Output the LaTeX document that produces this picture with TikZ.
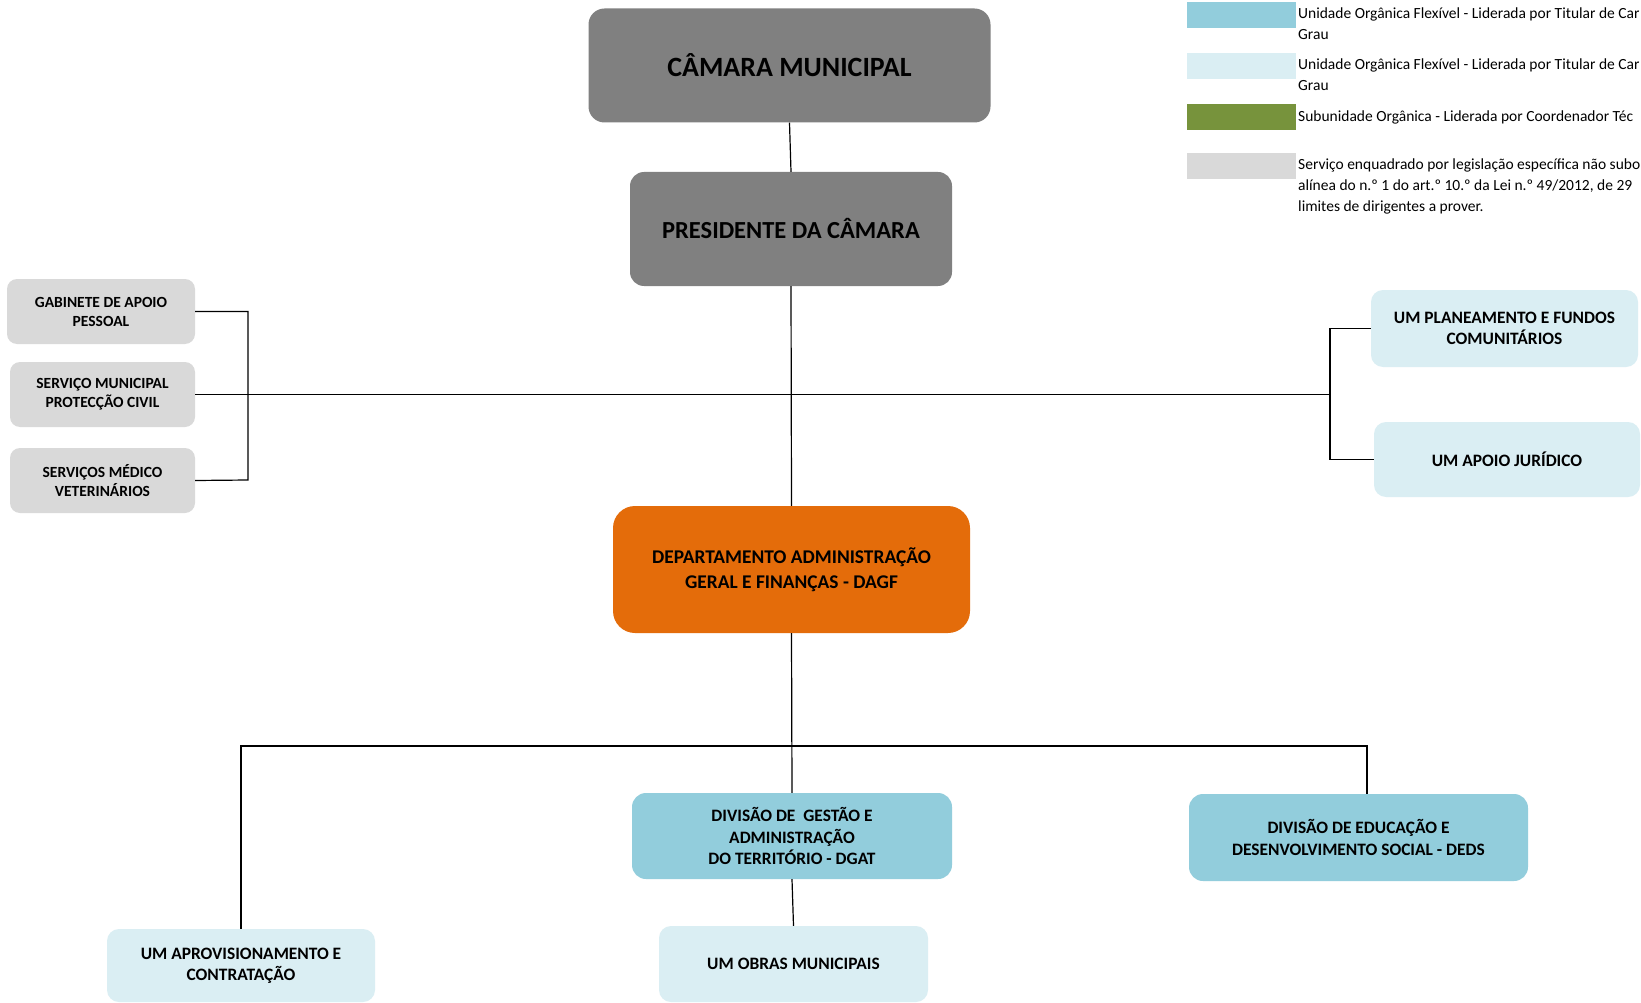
\documentclass[tikz,border=0pt]{standalone}
\usepackage{fontspec}
\setmainfont{Carlito}
\definecolor{dgray}{HTML}{808080}
\definecolor{lgray}{HTML}{D9D9D9}
\definecolor{orng}{HTML}{E46C0A}
\definecolor{mblue}{HTML}{92CDDC}
\definecolor{lblue}{HTML}{DAEEF3}
\definecolor{olive}{HTML}{77933C}
\begin{document}
\begin{tikzpicture}[x=1pt,y=-1pt,
  unit/.style={rectangle, rounded corners=10pt, align=center, inner sep=0pt, text=black},
  conn/.style={draw=black, line width=1.2pt},
  legtext/.style={anchor=base west, inner sep=0pt, text=black, font=\fontsize{15.5}{19}\selectfont},
  swatch/.style={rectangle, inner sep=0pt, minimum width=109pt, minimum height=25.5pt}
]
\useasboundingbox (0,0) rectangle (1641,1003);
\clip (0,0) rectangle (1641,1003);
\fill[white] (0,0) rectangle (1641,1003);

% top
\node[unit, fill=dgray, rounded corners=16pt, minimum width=402pt, minimum height=114pt,
  font=\bfseries\fontsize{27.9}{32}\selectfont] (camara) at (789.5,65.5) {CÂMARA MUNICIPAL};
\node[unit, fill=dgray, rounded corners=14pt, minimum width=322pt, minimum height=114pt,
  font=\bfseries\fontsize{24.5}{28}\selectfont] (pres) at (791,229) {PRESIDENTE DA CÂMARA};

% left services
\node[unit, fill=lgray, minimum width=188pt, minimum height=65pt,
  font=\bfseries\fontsize{15.5}{19}\selectfont] (gab) at (101,311.5) {GABINETE DE APOIO\\PESSOAL};
\node[unit, fill=lgray, minimum width=185pt, minimum height=65pt,
  font=\bfseries\fontsize{15.5}{19}\selectfont] (smpc) at (102.5,394.5) {SERVIÇO MUNICIPAL\\PROTECÇÃO CIVIL};
\node[unit, fill=lgray, minimum width=185pt, minimum height=65pt,
  font=\bfseries\fontsize{15.5}{19}\selectfont] (smv) at (102.5,480.5) {SERVIÇOS MÉDICO\\VETERINÁRIOS};

% right units
\node[unit, fill=lblue, rounded corners=12pt, minimum width=267pt, minimum height=77pt,
  font=\bfseries\fontsize{17.4}{21.5}\selectfont] (plan) at (1504.5,328.5) {UM PLANEAMENTO E FUNDOS\\COMUNITÁRIOS};
\node[unit, fill=lblue, rounded corners=12pt, minimum width=266pt, minimum height=75pt,
  font=\bfseries\fontsize{17.4}{21.5}\selectfont] (apoio) at (1507,459.5) {UM APOIO JURÍDICO};

% department
\node[unit, fill=orng, rounded corners=22pt, minimum width=357pt, minimum height=127pt,
  font=\bfseries\fontsize{19.4}{24.5}\selectfont] (dagf) at (791.5,569.5) {DEPARTAMENTO ADMINISTRAÇÃO\\GERAL E FINANÇAS - DAGF};

% divisions
\node[unit, fill=mblue, rounded corners=14pt, minimum width=320pt, minimum height=86pt,
  font=\bfseries\fontsize{17.4}{21.5}\selectfont] (dgat) at (792,836) {DIVISÃO DE \ GESTÃO E\\ADMINISTRAÇÃO\\DO TERRITÓRIO - DGAT};
\node[unit, fill=mblue, rounded corners=14pt, minimum width=339pt, minimum height=87pt,
  font=\bfseries\fontsize{17.4}{22.5}\selectfont] (deds) at (1358.5,837.5) {DIVISÃO DE EDUCAÇÃO E\\DESENVOLVIMENTO SOCIAL - DEDS};

% bottom units
\node[unit, fill=lblue, rounded corners=12pt, minimum width=268pt, minimum height=73pt,
  font=\bfseries\fontsize{17.4}{21}\selectfont] (aprov) at (241,965.5) {UM APROVISIONAMENTO E\\CONTRATAÇÃO};
\node[unit, fill=lblue, rounded corners=12pt, minimum width=269pt, minimum height=76pt,
  font=\bfseries\fontsize{17.4}{21}\selectfont] (obras) at (793.5,964) {UM OBRAS MUNICIPAIS};

% helper coordinates
\coordinate (lbb) at (248,480);
\coordinate (rmid) at (1330,394.5);
\coordinate (hub) at (792,746);
\coordinate (dtop) at (1367,794);

% connectors
\draw[conn] (camara.south) -- (pres.north);
\draw[conn] (pres.south) -- (dagf.north);
\draw[conn] (gab.east) -| (lbb) -- (smv.east);
\draw[conn] (smpc.east) -- (rmid);
\draw[conn] (plan.west) -| (rmid) |- (apoio.west);
\draw[conn] (dagf.south) -- (dgat.north);
\draw[conn] (aprov.north) |- (hub) -| (dtop);
\draw[conn] (dgat.south) -- (obras.north);

% legend
\node[swatch, fill=mblue] (sw1) at (1241.5,15) {};
\node[swatch, fill=lblue] (sw2) at (1241.5,66) {};
\node[swatch, fill=olive] (sw3) at (1241.5,117) {};
\node[swatch, fill=lgray] (sw4) at (1241.5,166) {};

\node[legtext] (l1a) at (1298,19) {Unidade Orgânica Flexível - Liderada por Titular de Car};
\node[legtext] (l1b) at (1298,40) {Grau};
\node[legtext] (l2a) at (1298,69.5) {Unidade Orgânica Flexível - Liderada por Titular de Car};
\node[legtext] (l2b) at (1298,90.5) {Grau};
\node[legtext] (l3a) at (1298,122) {Subunidade Orgânica - Liderada por Coordenador Téc};
\node[legtext] (l4a) at (1298,169.5) {Serviço enquadrado por legislação específica não subo};
\node[legtext] (l4b) at (1298,190.5) {alínea do n.º 1 do art.º 10.º da Lei n.º 49/2012, de 29};
\node[legtext] (l4c) at (1298,211.5) {limites de dirigentes a prover.};
\end{tikzpicture}
\end{document}
